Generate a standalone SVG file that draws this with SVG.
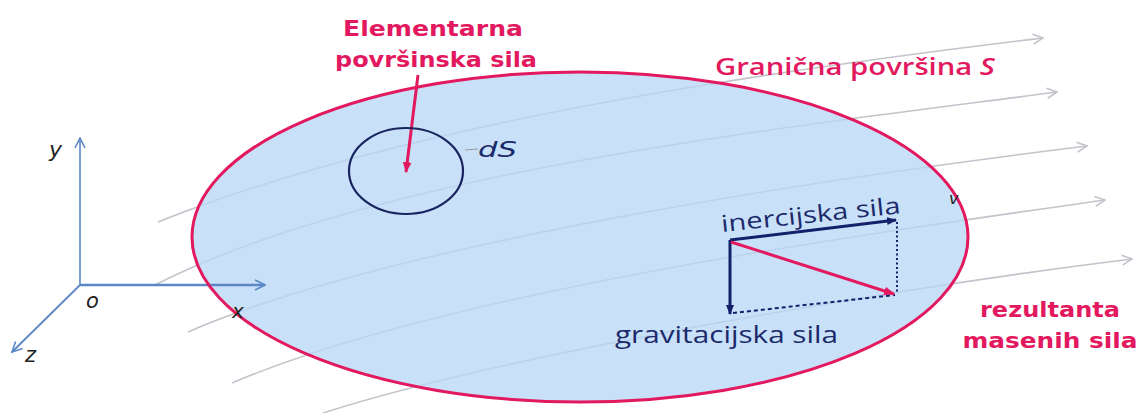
<svg xmlns="http://www.w3.org/2000/svg" width="1138" height="413" viewBox="0 0 1138 413">
<style>
.stream{fill:none;stroke:#c3c3cc;stroke-width:1.6;marker-end:url(#open)}
.axis{fill:none;stroke:#5b87c5;marker-end:url(#axhead)}
.pinkb{font-family:"DejaVu Sans",sans-serif;font-weight:bold;fill:#e3195f}
.navy{font-family:"Open Sans","Liberation Sans",sans-serif;fill:#1c2a6b}
.ital{font-family:"DejaVu Sans",sans-serif;font-style:italic;fill:#222}
.vec{stroke:#14206a;stroke-width:3;fill:none}
</style>
<defs>
<marker id="open" viewBox="0 0 12 12" refX="11" refY="6" markerWidth="12" markerHeight="12" markerUnits="userSpaceOnUse" orient="auto">
<polyline points="1,1 11,6 1,11" fill="none" stroke="#c3c3cc" stroke-width="1.6"/>
</marker>
<marker id="axhead" viewBox="0 0 12 12" refX="11" refY="6" markerWidth="12" markerHeight="12" markerUnits="userSpaceOnUse" orient="auto">
<polyline points="1,1 11,6 1,11" fill="none" stroke="#5b87c5" stroke-width="1.6"/>
</marker>
<marker id="navyhead" viewBox="0 0 10 10" refX="9" refY="5" markerWidth="10" markerHeight="10" markerUnits="userSpaceOnUse" orient="auto">
<path d="M0,1 L10,5 L0,9 Z" fill="#14206a"/>
</marker>
<marker id="pinkhead" viewBox="0 0 10 10" refX="9" refY="5" markerWidth="11" markerHeight="11" markerUnits="userSpaceOnUse" orient="auto">
<path d="M0,1 L10,5 L0,9 Z" fill="#e3195f"/>
</marker>
</defs>
<rect width="1138" height="413" fill="#ffffff"/>
<g id="streamlines">
<path class="stream" d="M158,222 C400,125 750,73 1043,38"/>
<path class="stream" d="M155,285 C380,170 800,126 1057,92"/>
<path class="stream" d="M188,332 C400,240 850,175 1087,146"/>
<path class="stream" d="M232,383 C450,290 880,232 1105,200"/>
<path class="stream" d="M323,413 C520,350 920,285 1132,259"/>
</g>
<g id="surface">
<ellipse cx="580" cy="237" rx="388" ry="165" fill="#b8d8f6" fill-opacity="0.78"/>
</g>
<g id="connectors">
<line class="axis" x1="80" y1="285" x2="80" y2="138" stroke-width="1.6"/>
<line class="axis" x1="80" y1="285" x2="265" y2="285" stroke-width="2.6"/>
<line class="axis" x1="80" y1="285" x2="12" y2="352" stroke-width="1.8"/>
<line x1="418" y1="75" x2="406" y2="172" stroke="#e3195f" stroke-width="3" marker-end="url(#pinkhead)"/>
<line x1="465" y1="150" x2="478" y2="149" stroke="#999" stroke-width="1.2"/>
<line x1="897" y1="222" x2="897" y2="294" stroke="#14206a" stroke-width="2" stroke-dasharray="2,2.5"/>
<line x1="733" y1="313" x2="895" y2="295" stroke="#14206a" stroke-width="2" stroke-dasharray="4,3"/>
<line class="vec" x1="730" y1="240" x2="896" y2="220" marker-end="url(#navyhead)"/>
<line class="vec" x1="730" y1="240" x2="730" y2="314" marker-end="url(#navyhead)"/>
<line x1="731" y1="242" x2="894" y2="294" stroke="#e3195f" stroke-width="3" marker-end="url(#pinkhead)"/>
</g>
<g id="surface-outline">
<ellipse cx="580" cy="237" rx="388" ry="165" fill="none" stroke="#e3195f" stroke-width="3"/>
</g>
<g id="element-dS">
<ellipse cx="406" cy="171" rx="57" ry="43" fill="none" stroke="#1a2560" stroke-width="2.2"/>
<text x="478" y="157" font-family="DejaVu Sans,sans-serif" font-style="italic" font-size="22" fill="#1c2a6b" textLength="39" lengthAdjust="spacingAndGlyphs">dS</text>
</g>
<g id="labels">
<text class="pinkb" x="433" y="36" font-size="22" text-anchor="middle" textLength="180" lengthAdjust="spacingAndGlyphs">Elementarna</text>
<text class="pinkb" x="436" y="67" font-size="22" text-anchor="middle" textLength="202" lengthAdjust="spacingAndGlyphs">površinska sila</text>
<text x="715" y="75" font-family="Open Sans,sans-serif" font-weight="600" font-size="23" fill="#e3195f" textLength="280" lengthAdjust="spacingAndGlyphs">Granična površina  <tspan font-style="italic">S</tspan></text>
<text class="pinkb" x="1050" y="317" font-size="22" text-anchor="middle" textLength="140" lengthAdjust="spacingAndGlyphs">rezultanta</text>
<text class="pinkb" x="1050" y="348" font-size="22" text-anchor="middle" textLength="175" lengthAdjust="spacingAndGlyphs">masenih sila</text>
<text class="navy" x="722" y="232" font-size="23" transform="rotate(-6 722 232)" textLength="180" lengthAdjust="spacingAndGlyphs">inercijska sila</text>
<text class="navy" x="615" y="343" font-size="24" textLength="223" lengthAdjust="spacingAndGlyphs">gravitacijska sila</text>
</g>
<g id="axis-labels">
<text class="ital" x="49" y="157" font-size="22">y</text>
<text class="ital" x="86" y="308" font-size="21">o</text>
<text class="ital" x="25" y="362" font-size="21">z</text>
<text class="ital" x="232" y="318" font-size="20">x</text>
<text class="ital" x="949" y="204" font-size="16">v</text>
</g>
</svg>
